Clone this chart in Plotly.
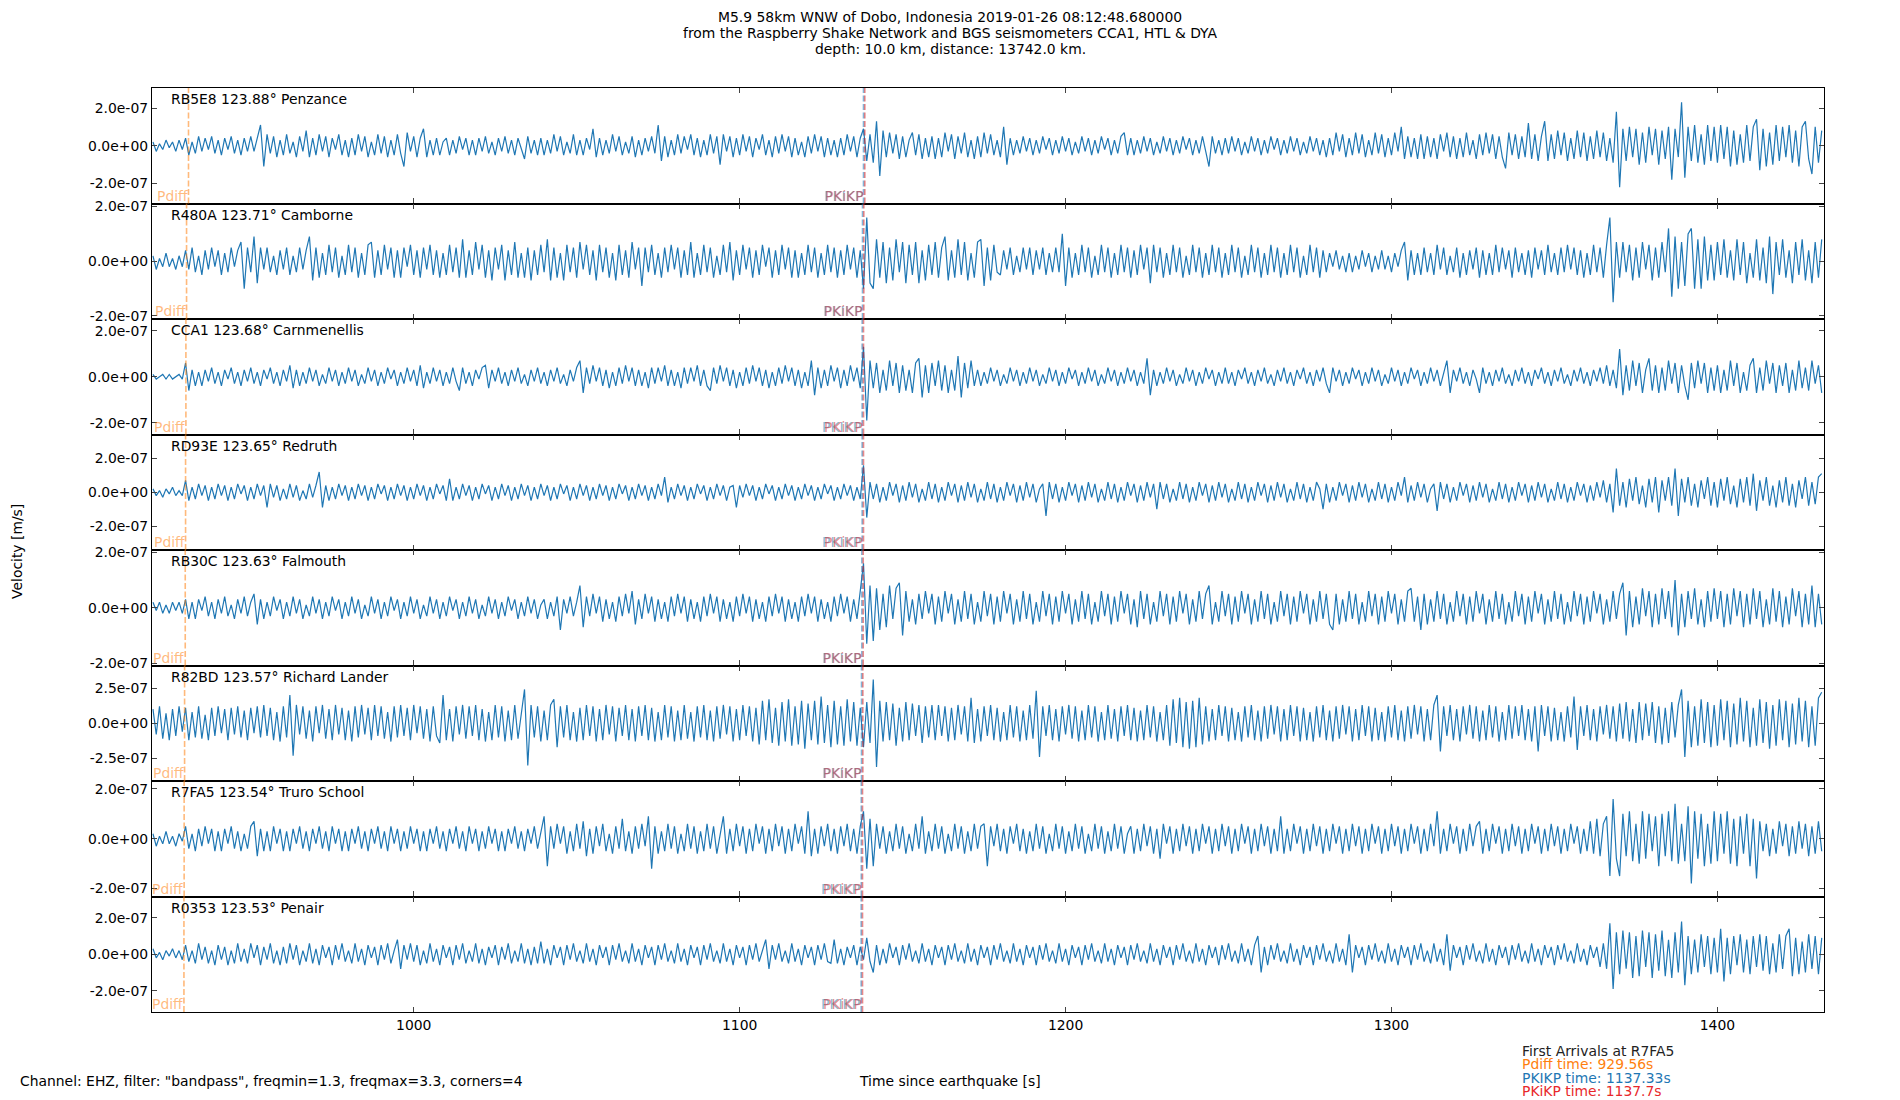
import numpy as np
import plotly.graph_objects as go
from plotly.subplots import make_subplots


# stations, top to bottom
stations = ["RB5E8 123.88° Penzance", "R480A 123.71° Camborne", "CCA1 123.68° Carnmenellis",
            "RD93E 123.65° Redruth", "RB30C 123.63° Falmouth", "R82BD 123.57° Richard Lander",
            "R7FA5 123.54° Truro School", "R0353 123.53° Penair"]

# time axis of the traces (s since earthquake)
t_start = 920.0
t_step = 1.0

# trace peaks, units of 1e-8 m/s, one row = 30 s
penzance = [
    2,-3,1,-2,3,-1,2,-3,3,-2, 4,-5,2,-4,5,-3,4,-2,5,-4, 3,-5,4,-2,5,-4,3,-5,4,-3,
    5,-3,4,11,-11,6,-4,5,-6,3, -5,6,-4,2,-6,5,-3,8,-6,4, -5,6,-3,5,-6,4,-2,6,-5,3,
    -6,4,-5,6,-3,5,-6,2,-5,6, -4,5,-6,3,-5,6,-4,-11,7,-3, 5,-6,4,9,-6,3,-5,4,-5,2,
    4,-5,3,-4,5,-2,4,-5,3,-5, 4,-3,5,-4,2,-5,4,-3,5,-4, 3,-5,4,-2,-7,5,-4,3,-5,4,
    -5,3,-4,6,-3,5,-5,2,-4,6, -5,3,-5,4,-2,9,-6,4,-5,3, -4,6,-3,5,-5,2,-4,5,-6,3,
    -5,4,-3,5,-4,11,-8,5,-6,3, -5,6,-4,5,-2,6,-5,4,-6,3, -5,6,-4,5,-10,6,-3,5,-6,4,
    -5,6,-3,5,-6,4,-2,6,-5,3, -6,5,-4,6,-3,5,-6,4,-5,2, -6,5,-4,6,-3,5,-6,4,-5,3,
    -6,4,-5,6,-3,5,-6,4,9,-8, 6,-9,13,-16,8,-6,7,-4,6,-7, 5,-6,3,7,-5,6,-7,4,-6,5,
    -7,4,-6,7,-3,6,-7,5,-4,7, -6,3,-7,5,-6,7,-4,6,-5,3, -6,10,-10,4,-5,3,-4,5,-3,4,
    -5,3,-4,5,-2,4,-5,3,-4,5, -3,4,-5,2,-4,5,-3,4,-5,3, -4,5,-2,4,-5,3,-4,5,7,-5,
    4,-5,3,-4,5,-3,4,-5,2,-4, 5,-3,4,-5,3,-4,5,-2,4,-5, 3,-4,5,-3,-11,5,-4,3,-5,4,
    -4,5,-3,4,-5,2,-4,5,-3,4, -5,3,-4,5,-2,4,-5,3,-4,5, -3,4,-5,2,-4,5,-3,4,-5,3,
    -6,4,-5,7,-3,6,-6,4,-5,7, -4,6,-6,3,-5,7,-4,6,-6,4, -5,7,-3,10,-7,5,-6,4,-7,6,
    -7,5,-6,4,-7,6,-3,7,-6,5, -7,4,-6,7,-5,3,-7,6,-5,7, -4,6,-7,5,-6,-12,7,-5,6,-7,
    5,-6,12,-7,6,-8,5,13,-8,6, -7,8,-5,7,-8,4,-7,8,-6,7, -8,5,-7,8,-6,7,-8,4,-9,18,
    -22,9,-8,10,-6,9,-10,7,-9,10, -5,9,-10,8,-7,10,-18,9,-6,23, -17,10,-8,11,-9,6,-10,11,-8,10,
    -9,11,-7,10,-11,8,-10,6,-9,11, -8,10,14,-13,9,-11,7,-10,11,-8, 10,-6,11,-9,8,-11,10,13,-7,-15,
    10,-9,8]

camborne = [
    2,-3,1,-2,3,-2,1,-3,2,-2, 4,-3,5,-4,2,-5,4,-3,5,-2, 4,-5,3,-4,5,-2,4,7,-10,5,
    -4,9,-8,5,-3,5,-4,2,-5,4, -3,5,-5,2,-4,5,-3,4,9,-7, 5,-6,3,-5,6,-4,5,-6,2,-5,
    6,-4,5,-6,3,-5,6,7,-6,4, -5,6,-3,5,-6,4,-6,5,-2,6, -5,4,-6,5,-3,6,-5,4,-6,3,
    -5,6,-4,5,-6,8,-6,4,-5,7, -3,6,-6,4,-7,5,-3,6,-7,4, -5,7,-6,3,-6,5,-7,4,-5,6,
    -4,8,-7,5,-6,3,-7,6,-4,5, -6,7,-3,6,-5,4,-7,6,-4,5, -6,3,-7,6,-5,4,-6,7,-3,5,
    -9,5,-4,6,-5,3,-6,5,-4,6, -3,5,-6,4,-5,7,-6,3,-5,6, -4,5,-6,2,-5,6,-4,7,-7,4,
    -5,6,-3,5,-6,4,-5,6,-2,5, -6,4,-5,6,-3,5,-6,4,-6,3, -5,6,-4,5,-6,3,-5,6,-4,5,
    -6,4,-5,6,-3,5,-6,4,-10,16, -8,-10,8,-6,7,-8,5,-7,8,-4, 7,-8,6,-5,7,-8,4,-7,6,-5,
    7,-6,5,9,-7,4,-6,8,-5,7, -7,3,-6,7,8,-9,5,-7,6,-4, -5,4,-3,5,-5,2,-4,5,-3,5,
    -5,4,-3,5,-5,3,-4,5,-4,10, -9,5,-6,3,-5,6,-4,5,-6,2, -5,6,-4,5,-6,3,-5,6,-4,5,
    -6,4,-5,6,-3,5,-8,6,-4,5, -6,3,-5,6,-4,5,-6,2,-5,6, -4,5,-6,3,-5,6,-4,5,-6,3,
    -5,6,-4,5,-6,2,-5,6,-4,5, -6,3,-5,6,-4,5,-6,3,-5,6, -4,5,-6,2,-5,6,-4,5,-6,4,
    -4,3,-2,4,-3,2,-4,3,-4,2, -3,4,-2,3,-4,2,-3,4,-3,2, -4,3,-2,4,7,-7,4,-5,3,-5,
    5,-4,3,-5,6,-3,5,-5,2,-4, 5,-6,3,-5,4,-3,5,-6,4,-5, 3,-5,6,-4,5,-3,4,-6,5,-4,
    3,-5,4,-6,5,-3,4,-5,6,-4, 3,-5,5,-4,6,-3,5,-5,4,-6, 3,-5,6,-4,5,-6,6,16,-15,7,
    -6,7,-4,6,-7,5,-6,7,-3,6, -7,5,-6,7,-4,12,-13,9,-10,7, -9,10,12,-10,8,-10,9,-7,6,-7,
    7,-5,8,-6,4,-7,8,-5,7,-8, 3,-6,8,-7,5,-8,9,-12,7,-5, 8,-6,4,-8,7,-5,8,-7,4,-8,
    7,-6,8]

carnmenellis = [
    1,-1,0,1,-1,1,-1,0,1,-1, 6,-6,3,-4,2,-4,3,-2,4,-3, 2,-4,3,-1,4,-3,2,-4,3,-2,
    4,-3,2,-4,3,-1,4,-3,2,-4, 3,-2,5,-5,3,-4,2,-3,4,-2, 3,-4,1,-3,4,-2,3,-4,2,-3,
    4,-2,3,-4,1,-3,4,-2,3,-4, 2,-3,4,-1,3,-4,2,-3,4,-2, 3,-4,5,-5,2,-3,4,-2,3,-4,
    2,-3,4,-2,-6,4,-3,2,-4,3, -1,4,5,-5,3,-2,4,-3,2,-4, 3,-2,4,-3,1,-4,3,-2,4,-3,
    2,-4,3,-2,4,-3,1,-4,3,-2, 4,7,-7,4,-3,5,-2,4,-4,3, -5,2,-4,4,-3,5,-2,4,-4,3,
    -4,2,-5,4,-3,4,-2,5,-4,3, -4,2,-5,4,-3,4,-2,5,-4,3, -4,-6,4,-3,5,-2,4,-4,3,-5,
    2,-4,4,-3,5,-2,4,-4,3,-5, 2,-4,4,-3,5,-2,4,-4,3,-5, 2,-4,7,-8,4,-5,3,-4,5,-2,
    4,-5,3,-4,5,-2,4,-5,13,-19, 7,-5,6,-7,3,-6,7,-4,6,-7, 5,-6,3,-7,6,8,-9,5,-7,6,
    -4,7,-6,5,-7,3,-6,9,-9,6, -5,7,-4,3,-4,2,-3,4,-2,3, -4,1,-3,4,-2,3,-4,2,-3,4,
    -2,3,-4,1,-3,4,-2,3,-4,2, -3,4,-1,3,-4,2,-3,4,-2,3, -4,1,-3,4,-2,3,-4,2,-3,4,
    -2,3,-4,2,-3,8,-8,3,-4,2, -3,4,-2,3,-4,1,-3,4,-2,3, -4,2,-3,4,-1,3,-4,2,-3,4,
    -3,2,-4,3,-1,4,-3,2,-4,3, -2,4,-3,1,-4,3,-2,4,-3,2, -4,3,-1,4,-3,2,-4,3,-2,4,
    -3,-7,4,-2,3,-4,2,-3,4,-1, 3,-4,2,-3,4,-2,3,-4,1,-3, 4,-2,3,-4,2,-3,4,-1,3,-4,
    2,-3,4,-2,3,-4,1,7,-7,3, -2,4,-3,2,-4,3,-1,-7,4,-3, 2,-4,3,-2,4,-3,1,-4,3,-2,
    4,-3,2,-4,3,-1,4,-3,2,-4, 3,-2,4,-3,1,-4,3,-2,4,-3, 2,-4,3,-2,4,-3,5,-4,3,-5,
    12,-8,5,-6,7,-4,6,-7,3,8, -6,5,-7,4,-6,7,-3,6,-7,5, -4,-10,6,-5,7,-3,6,-7,4,-6,
    5,-7,3,-6,7,-4,6,-7,2,-6, 5,8,-7,4,-6,7,-3,6,-7,5, -4,6,-7,3,-6,7,-5,4,-6,7,
    -3,5,-7]

redruth = [
    2,-2,1,-3,2,-1,3,-2,1,-2, 7,-5,3,-4,5,-2,4,-5,3,-4, 5,-2,4,-5,3,-4,5,-1,4,-5,
    3,-4,5,-2,4,-9,5,-3,4,-5, 2,-4,5,-3,4,-5,1,-4,5,-3, 4,12,-9,4,-5,3,-4,5,-2,4,
    -5,3,-4,5,-2,4,-5,3,-4,5, -1,4,-5,3,-4,5,-2,4,-5,3, -4,5,-2,4,-5,3,-4,5,-1,4,
    -5,8,-5,3,-4,5,-2,4,-5,3, -4,5,-1,4,-5,3,-4,5,-2,4, -5,3,-4,5,-2,4,-5,3,-4,5,
    -2,4,-5,3,-4,5,-1,4,-5,3, -4,5,-2,4,-5,3,-4,5,-2,4, -5,3,-4,5,-1,4,-5,3,-4,5,
    -2,4,-5,3,-4,5,-2,9,-6,3, -4,5,-2,4,-5,3,-4,5,-1,4, -5,3,-4,5,-2,4,-5,3,4,-9,
    4,-3,5,-2,4,-5,3,-4,5,-1, 4,-5,3,-4,5,-2,4,-5,3,-4, 5,-2,4,-5,3,-4,5,-1,4,-5,
    3,-4,5,-2,4,-5,3,-4,16,-15, 6,-4,5,-6,3,-5,6,-2,5,-6, 4,-5,6,-3,5,-6,2,-5,6,-4,
    5,-6,3,-5,6,-2,5,-6,4,-5, 6,-3,5,-6,2,-5,6,-4,5,-6, 3,-5,6,-2,5,-6,4,-5,6,-3,
    5,-6,2,5,-14,6,-4,5,-6,3, -5,6,-2,5,-6,4,-5,6,-3,5, -6,2,-5,6,-4,5,-6,3,-5,6,
    -2,5,-6,4,-5,6,-3,5,-10,6, -4,5,-6,2,-5,6,-4,5,-6,3, -5,6,-2,5,-6,4,-5,6,-3,5,
    -6,2,-5,6,-4,5,-6,3,-5,6, -2,5,-6,4,-5,6,-3,5,-6,2, -5,6,-4,5,-6,3,-5,6,2,-10,
    5,-6,3,-5,6,-2,5,-6,4,-5, 6,-3,5,-6,2,-5,6,-4,5,-6, 3,-5,6,-2,9,-6,4,-5,6,-3,
    5,-6,2,5,-11,6,-4,5,-6,3, -5,6,-2,5,-6,4,-5,6,-3,5, -6,2,-5,6,-4,5,-6,3,-5,6,
    -2,5,-6,4,-5,6,-3,5,-6,2, -5,6,-4,5,-6,3,-5,6,-2,5, -6,4,-5,6,-3,7,-6,5,-12,14,
    -8,6,-9,8,-5,9,-7,4,-9,8, -6,9,-12,7,-5,9,-8,14,-14,8, -6,9,-8,5,-9,7,-4,9,-8,6,
    -9,8,-5,9,-7,4,-9,8,-6,9, -8,11,-11,7,-5,9,-8,4,-9,7, -6,9,-8,5,-9,7,-4,9,-8,6,
    -7,9,11]

falmouth = [
    2,-1,2,-2,1,-2,2,-1,2,-2, 3,-4,2,-4,3,-1,4,-3,2,-4, 3,-2,4,-3,1,-4,3,-2,4,-3,
    2,5,-6,3,-4,2,-3,4,-1,3, -4,2,-3,4,-2,3,-4,1,-3,4, -2,3,-4,2,-3,4,-1,3,-4,2,
    -3,4,-2,3,-4,1,-3,4,-2,3, -4,2,-3,4,-1,3,-4,2,-3,4, -2,3,-4,1,-3,4,-2,3,-4,2,
    -3,4,-1,3,-4,2,-3,4,-2,3, -4,1,-3,4,-2,3,-4,2,-3,4, -1,3,-4,2,-3,4,-2,3,-4,1,
    3,-4,2,-3,4,-8,3,-2,4,-3, 2,8,-7,4,-3,5,-2,4,-5,3, -4,2,-5,4,-3,5,-2,6,-6,3,
    -4,5,-2,4,-5,3,-4,2,-5,4, -3,5,-2,4,-5,3,-4,2,-5,4, -3,5,-2,4,-5,3,-4,2,-5,4,
    -3,5,-2,4,-5,3,-4,2,-5,4, -3,5,-2,4,-5,3,-4,2,-5,4, -3,5,-2,4,-5,3,-4,2,-5,4,
    -3,5,-2,4,-5,3,-4,5,16,-13, 8,-12,7,-8,5,-7,8,-4,7,9, -10,6,-5,3,-6,5,-4,6,-2,5,
    -6,4,-5,6,-2,5,-6,3,-5,6, -4,5,-6,2,-5,6,-3,5,-6,4, -5,6,-2,5,-6,3,-5,6,-4,5,
    -6,2,-5,6,-3,5,-6,4,-5,6, -2,5,-6,3,-5,6,-4,5,-6,2, -5,6,-3,5,-6,4,-5,6,-2,5,
    -6,3,-7,6,-4,5,-6,2,-5,6, -3,5,-6,4,-5,6,-2,5,-6,3, -5,6,-4,5,8,-6,2,-5,6,-3,
    5,-6,4,-5,6,-2,5,-6,3,-5, 6,-4,5,-6,2,-5,6,-3,5,-6, 4,-5,6,-2,5,-6,3,-5,6,-4,
    5,-6,-8,5,-6,3,-5,6,-4,5, -6,2,-5,6,-3,5,-6,4,-5,6, -2,5,-6,3,-5,6,7,-5,4,-8,
    5,-6,3,-5,6,-4,5,-6,2,-5, 6,-3,5,-6,4,-5,6,-2,5,-6, 3,-5,6,-4,5,-6,2,-5,6,-3,
    5,-6,4,-5,6,-2,5,-6,3,-5, 6,-4,5,-6,2,-5,6,-3,5,-6, 4,-5,6,-2,5,-6,3,-5,6,-4,
    5,9,-10,6,-7,4,-6,7,-3,6, -7,5,-6,7,-4,6,-7,10,-10,5, -7,6,-4,7,-6,3,-7,6,-5,7,
    -4,6,-7,5,-6,7,-3,6,-7,5, -6,7,-4,6,-7,3,-6,7,-5,6, -7,4,-6,7,-3,6,-7,5,-6,8,
    -7,5,-6]

richard_lander = [
    10,-8,12,-11,7,-12,10,-9,12,-6, 11,-12,8,-10,12,-11,6,-12,11,-9, 12,-7,10,-12,11,-8,12,-10,9,-12,
    11,-7,12,-10,13,-9,11,-12,8,-13, 12,-10,20,-23,13,-8,12,-11,9,-13, 12,-7,13,-11,10,-12,13,-8,11,-12,
    9,-13,12,-10,13,-8,11,-12,13,-9, 12,-11,8,-13,12,-10,13,-9,11,-12, 13,-7,12,-11,10,-13,12,-9,-14,20,
    -12,10,-13,12,-8,13,-11,12,-9,13, -12,10,-13,8,-12,13,-10,12,-13,9, -12,13,-11,8,24,-30,13,-10,12,-13,
    9,-12,13,17,-17,12,-10,13,-12,8, -13,11,-12,13,-9,12,-13,10,-12,13, -8,12,-13,11,-9,13,-12,10,-13,12,
    -9,13,-12,11,-13,8,-12,13,-10,12, -13,9,-12,13,-11,8,-13,12,-10,13, -12,9,-13,12,-11,13,-8,12,-13,10,
    -12,13,-9,12,-13,11,-15,16,-12,17, -14,11,-16,15,-13,17,-16,12,-15,16, -18,14,-12,16,-15,19,-14,13,-17,16,
    -15,12,-16,17,-13,15,-16,11,-17,15, -14,31,-31,16,-13,15,-12,14,-16,11, -13,15,-12,14,-9,13,-14,12,-10,13,
    -12,13,-9,12,-13,11,-12,13,-8,12, -13,18,-14,10,-13,12,-9,13,-12,11, -13,8,-12,13,-10,12,-13,9,-12,13,
    -11,23,-24,12,-9,13,-12,10,-13,12, -8,13,-11,12,-13,9,-12,13,-10,12, -13,8,-12,13,-11,10,-13,12,-9,13,
    -12,11,-13,9,-12,13,-10,12,-13,8, -12,13,-16,17,-14,18,-17,15,-18,16, -17,18,-15,12,-13,10,-12,13,-9,12,
    -13,11,-12,8,-13,12,-10,13,-12,9, -13,12,-11,13,-8,12,-13,10,-12,13, -9,12,-13,11,-12,8,-13,12,-10,13,
    -12,9,-13,12,-11,13,-8,12,-13,10, -12,13,-9,12,-13,11,-12,8,-13,12, -10,13,-12,9,-13,12,-11,13,-8,12,
    -13,10,-12,13,20,-20,12,-9,13,-12, 10,-13,12,-8,13,-11,12,-13,9,-12, 13,-10,12,-13,8,-12,13,-11,12,-9,
    13,-12,10,-13,12,-20,13,-9,12,-13, 11,-12,8,-13,12,-10,19,-19,12,-9, 13,-12,10,-13,12,-8,13,-11,12,-13,
    14,-11,15,-13,10,-14,15,-12,14,-9, 15,-14,12,-15,11,-14,15,-10,13,24, -24,16,-17,12,-16,17,-14,15,-17,13,
    -16,17,-12,16,-17,14,-15,18,-13,16, -17,11,-16,17,-14,15,-18,13,-16,17, -12,16,-17,14,-15,18,-13,16,-17,12,
    -16,18,22]

truro_school = [
    2,-3,1,-2,3,-2,1,-3,2,-1, 5,-4,2,-5,4,-3,5,-2,4,-5, 3,-5,4,-2,5,-4,3,-5,2,-4,
    5,7,-7,4,-5,3,-5,5,-2,4, -5,3,-5,4,-2,5,-4,3,-5,4, -2,5,-4,3,-5,5,-2,4,-5,3,
    -5,4,-2,5,-4,3,-5,4,-2,5, -4,3,-5,5,-2,4,-5,3,-4,5, -2,4,-5,3,-5,4,-2,5,-4,3,
    -5,4,-2,5,-4,3,-5,5,-2,4, -5,3,-4,5,-2,4,-5,3,-5,4, -2,5,-4,3,-5,4,-2,5,-4,3,
    9,-11,5,-4,6,-2,5,-6,3,-5, 6,-4,7,-7,4,-6,5,-3,6,-5, 2,-6,5,-4,8,-5,3,-6,5,-4,
    6,-3,9,-12,5,-6,3,-5,6,-4, 5,-6,2,-5,6,-4,5,-6,3,-5, 6,-4,5,-6,2,9,-6,4,-5,6,
    -3,5,-6,4,-5,6,-2,5,-6,4, -5,6,-3,5,-6,4,-5,6,-2,5, -6,11,-7,4,-6,5,-3,6,-5,4,
    -6,5,-3,6,-5,4,-6,5,11,-12, 8,-11,6,-4,5,-6,3,-5,6,-4, 5,-6,2,-5,6,-4,9,-6,3,-5,
    6,-4,5,-6,2,-5,6,-4,5,-6, 3,-5,6,-4,5,6,-11,5,-3,6, -5,4,-6,5,-2,6,-5,4,-6,3,
    -5,6,-4,5,-6,2,-5,6,-4,5, -6,3,-5,6,-4,5,-6,2,-5,6, -4,5,-6,3,-5,6,-4,5,-6,2,
    5,-6,4,-5,6,-3,5,-6,4,-8, 6,-2,5,-6,4,-5,6,-3,5,-6, 4,-5,6,-2,5,-6,4,-5,6,-3,
    5,-6,4,-5,6,-2,5,-6,4,-5, 6,-3,5,-6,4,-5,9,-6,4,-5, 6,-2,5,-6,4,-5,6,-3,5,-6,
    4,-5,6,-2,5,-6,4,-5,6,-3, 5,-6,4,-5,6,-2,5,-6,4,-5, 6,-3,5,-6,4,-5,6,-2,5,-6,
    4,-5,6,-3,11,-6,4,-5,6,-2, 5,-6,4,-5,6,-3,5,7,-6,4, -5,6,-2,5,-6,4,-5,6,-3,5,
    -6,4,-5,6,-2,5,-6,4,-5,6, -3,5,-6,4,-5,6,-2,5,-6,4, -5,7,-6,8,-7,6,9,-15,16,-8,
    -15,10,-7,11,-9,6,-10,11,-8,10, -5,9,-11,10,-7,11,-9,14,-10,6, -9,13,-18,11,-8,10,-11,6,-10,11,
    -9,10,-6,11,-10,8,-11,9,-6,10, -11,8,-16,7,-5,6,-7,4,-6,7, -3,6,-7,5,-6,7,-4,6,-7,5,
    -6,7,-5]

penair = [
    3,-2,1,-3,2,-1,3,-2,2,-3, 5,-4,2,-5,6,-3,4,-5,2,-6, 5,-3,4,-6,2,-5,6,-4,3,-5,
    6,-2,5,-6,4,-3,6,-5,2,-6, 4,-5,6,-3,5,-6,2,-4,6,-5, 3,-6,5,-2,4,-6,5,-3,6,-4,
    2,-5,6,-4,3,-6,5,-2,4,-6, 5,-3,6,-5,2,8,-8,5,-3,6, -4,5,-6,2,-5,6,-4,3,-6,5,
    -2,4,-6,5,-3,6,-5,2,-4,6, -5,3,-6,4,-2,5,-6,4,-3,6, -5,2,-4,6,-5,3,-6,4,-5,7,
    -5,3,-6,5,-2,4,-6,5,-3,6, -4,2,-5,6,-4,3,-6,5,-2,4, -6,5,-3,6,-4,2,-5,6,-4,3,
    -6,5,-2,4,-6,5,-3,6,-4,2, -5,6,-4,3,-6,5,-2,4,-6,5, -3,6,-4,2,-5,6,-4,3,-6,5,
    -2,4,-6,5,-3,6,-4,2,8,-8, 5,-3,6,-4,2,-5,6,-4,3,-6, 5,-2,4,-6,5,-3,6,-4,-5,8,
    -5,3,-6,4,-2,5,-6,4,-3,9, -4,-10,5,-6,3,-5,6,-2,4,-6, 5,-3,6,-4,2,-5,6,-4,3,-6,
    5,-2,4,-6,5,-3,6,-4,2,-5, 6,-4,3,-6,5,-2,4,-6,5,-3, 6,-4,2,-5,6,-4,3,-6,5,-2,
    4,-6,5,-3,6,-4,2,-5,6,-4, 3,-6,5,-2,4,-6,5,-3,6,-4, 2,-5,6,-4,3,-6,5,-2,4,-6,
    5,-3,6,-4,2,-5,6,-4,3,-6, 5,-2,4,-6,5,-3,6,-4,2,-5, 6,-4,3,-6,5,-2,4,-6,5,-3,
    6,-4,2,-5,6,-4,3,-6,5,10, -10,4,-6,5,-3,6,-4,2,-5,6, -4,3,-6,5,-2,4,-6,5,-3,6,
    -4,2,-5,6,-4,3,-6,11,-10,5, -2,4,-6,5,-3,6,-4,2,-5,6, -4,3,-6,5,-2,4,-6,5,-3,6,
    -4,2,-5,6,-4,3,-6,11,-9,5, -2,4,-6,5,-3,6,-4,2,-5,6, -4,3,-6,5,-2,4,-6,5,-3,6,
    -4,2,-5,6,-4,3,-6,5,-2,4, -6,5,-3,6,-4,2,-5,6,-4,3, -6,5,-2,4,-7,6,-8,17,-19,12,
    -11,13,-8,12,-13,10,-12,13,-7,12, -13,11,-9,13,-12,8,-13,12,-10,18, -17,10,-11,8,-10,11,-7,10,-11,9,
    -10,14,-15,9,-11,10,-6,11,-10,8, -11,10,-7,11,-9,10,-11,6,-10,11, -8,10,14,-12,9,-11,7,-10,11,-8,
    10,-11,9]

traces = [penzance, camborne, carnmenellis, redruth, falmouth, richard_lander, truro_school, penair]

# y limits and tick step per panel (x 1e-7 m/s)
y_lims = [3.06, 2.11, 2.51, 3.42, 2.08, 4.1, 2.32, 3.17]
y_steps = [2.0, 2.0, 2.0, 2.0, 2.0, 2.5, 2.0, 2.0]

# arrival times per station (s)
pdiff_t = [930.9, 930.3, 930.1, 930.0, 929.9, 929.7, 929.56, 929.5]
pkikp_t = [1138.0, 1137.7, 1137.6, 1137.6, 1137.5, 1137.4, 1137.33, 1137.3]
pkikp_inner_t = [1138.4, 1138.1, 1138.0, 1138.0, 1137.9, 1137.8, 1137.7, 1137.7]

x_range = [919.7, 1432.7]

title_lines = ["M5.9 58km WNW of Dobo, Indonesia 2019-01-26 08:12:48.680000",
               "from the Raspberry Shake Network and BGS seismometers CCA1, HTL & DYA",
               "depth: 10.0 km, distance: 13742.0 km."]
filter_note = 'Channel: EHZ, filter: "bandpass", freqmin=1.3, freqmax=3.3, corners=4'
arrival_lines = [("First Arrivals at R7FA5", "#222222"),
                 ("Pdiff time: 929.56s", "#ff7f0e"),
                 ("PKIKP time: 1137.33s", "#1f77b4"),
                 ("PKiKP time: 1137.7s", "#e8282b")]

FONT = "DejaVu Sans"
FS = 13.9
c_pdiff = "rgba(255,127,14,0.55)"
c_pkikp = "rgba(31,119,180,0.55)"
c_pkikp2 = "rgba(214,39,40,0.55)"

n = len(stations)
fig = make_subplots(rows=n, cols=1, shared_xaxes=True, vertical_spacing=0)

for i in range(n):
    r = i + 1
    ys = np.array(traces[i], dtype=float) * 1e-8
    fig.add_trace(go.Scatter(x0=t_start, dx=t_step, y=ys, mode="lines",
                             line=dict(color="#1f77b4", width=1.2), hoverinfo="skip",
                             showlegend=False), row=r, col=1)

    lim = y_lims[i] * 1e-7
    st = y_steps[i] * 1e-7
    tv = [-st, 0.0, st]
    fig.update_yaxes(range=[-lim, lim], tickvals=tv, ticktext=[f"{v:.1e}" for v in tv], row=r, col=1)

    for t, c in [(pdiff_t[i], c_pdiff), (pkikp_t[i], c_pkikp), (pkikp_inner_t[i], c_pkikp2)]:
        fig.add_vline(x=t, line=dict(color=c, width=1.6, dash="6px,2.5px"), row=r, col=1)

    ax = "" if r == 1 else str(r)
    fig.add_annotation(x=0.01, y=1, xref=f"x{ax} domain", yref=f"y{ax} domain",
                       text=stations[i], showarrow=False, xanchor="left", yanchor="top",
                       yshift=-1, font=dict(family=FONT, size=FS, color="black"))
    for t, txt, c in [(pdiff_t[i], "Pdiff", c_pdiff), (pkikp_t[i], "PKIKP", c_pkikp),
                      (pkikp_inner_t[i], "PKiKP", c_pkikp2)]:
        fig.add_annotation(x=t, y=0, xref=f"x{ax}", yref=f"y{ax} domain", text=txt,
                           showarrow=False, xanchor="right", yanchor="bottom", xshift=1, yshift=-2,
                           font=dict(family=FONT, size=FS, color=c))

fig.update_xaxes(range=x_range, tick0=1000, dtick=100, ticks="inside", ticklen=5,
                 showline=True, linecolor="black", linewidth=1.3, mirror="allticks",
                 showgrid=False, zeroline=False, tickfont=dict(family=FONT, size=FS, color="black"))
fig.update_yaxes(ticks="inside", ticklen=5, showline=True, linecolor="black", linewidth=1.3,
                 mirror="allticks", showgrid=False, zeroline=False,
                 tickfont=dict(family=FONT, size=FS, color="black"))

# figure texts, placed in paper units of the plot area (page: left 152 px, width 1672, bottom 1012, height 924)
for k, line in enumerate(title_lines):
    fig.add_annotation(x=0.4773, y=(1012 - 17 - 16 * k) / 924, xref="paper", yref="paper",
                       text=line, showarrow=False, xanchor="center", yanchor="middle",
                       font=dict(family=FONT, size=FS, color="black"))

fig.add_annotation(x=-0.0807, y=0.498, xref="paper", yref="paper", text="Velocity [m/s]",
                   textangle=-90, showarrow=False, xanchor="center", yanchor="middle",
                   font=dict(family=FONT, size=FS, color="black"))
fig.add_annotation(x=-0.0801, y=-0.0747, xref="paper", yref="paper", text=filter_note,
                   showarrow=False, xanchor="left", yanchor="middle",
                   font=dict(family=FONT, size=FS, color="black"))
fig.add_annotation(x=0.4773, y=-0.0747, xref="paper", yref="paper", text="Time since earthquake [s]",
                   showarrow=False, xanchor="center", yanchor="middle",
                   font=dict(family=FONT, size=FS, color="black"))
for k, (txt, c) in enumerate(arrival_lines):
    fig.add_annotation(x=0.818, y=(1012 - 1051 - 13.4 * k) / 924, xref="paper", yref="paper",
                       text=txt, showarrow=False, xanchor="left", yanchor="middle",
                       font=dict(family=FONT, size=FS, color=c))

# the page body adds an 8 px margin, so the figure is 8 px smaller on each axis
fig.update_layout(width=1892, height=1092, margin=dict(l=144, r=76, t=80, b=88),
                  plot_bgcolor="white", paper_bgcolor="white", showlegend=False,
                  font=dict(family=FONT, size=FS, color="black"))

fig.write_html("out.html", config={"displayModeBar": False})
